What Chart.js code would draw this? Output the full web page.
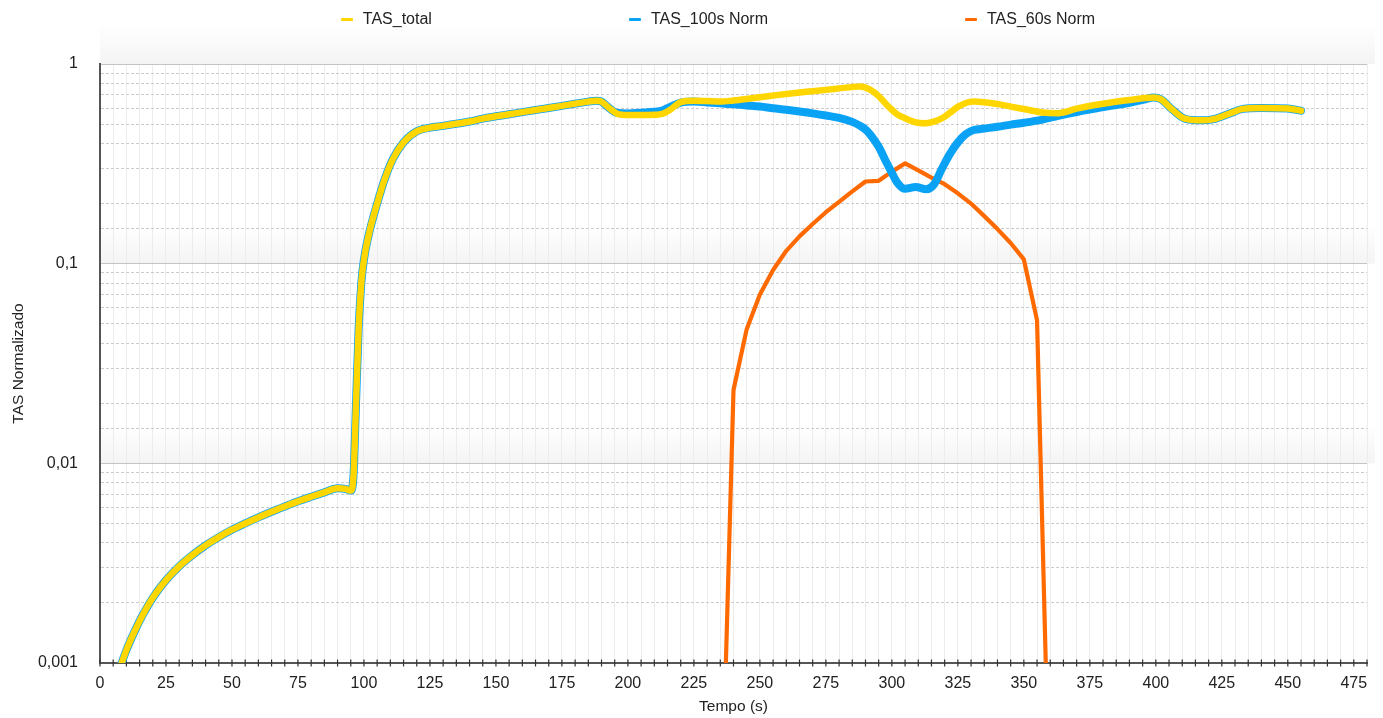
<!DOCTYPE html>
<html lang="pt">
<head>
<meta charset="UTF-8">
<title>TAS Normalizado</title>
<script src="https://cdn.jsdelivr.net/npm/chart.js@4.4.1/dist/chart.umd.min.js"></script>
<style>
  body { margin: 0; background: #fff; }
  #wrap { position: relative; width: 1383px; height: 718px; }
  #legend {
    position: absolute; top: 10px; left: 53px; right: 0;
    display: flex; justify-content: center; gap: 197px;
    font: 16px "Liberation Sans", Arial, sans-serif; color: #222;
  }
  .legend-item { display: flex; align-items: center; }
  .legend-box { width: 12px; height: 3px; margin-right: 10px; border-radius: 1px; }
</style>
</head>
<body>
<div id="wrap">
  <div id="legend"></div>
  <canvas id="tasChart" width="1383" height="718"></canvas>
</div>
<script>
// Dados (tempo em s)
const tiempo = [7, 10, 13, 16, 20, 25, 30, 35, 40, 45, 50, 55, 60, 65, 70, 75, 80, 85, 90, 93, 95,
  96, 97, 98, 99, 100, 102, 105, 108, 111, 115, 120, 125, 130, 135, 140, 145, 150, 155, 160, 165,
  170, 175, 180, 185, 188, 190, 193, 196, 200, 205, 210, 213, 216, 220, 225, 230, 235, 240, 245, 250,
  255, 260, 265, 270, 275, 280, 285, 288, 290, 292, 295, 298, 300, 302, 305, 309, 313, 316, 319, 322,
  325, 328, 331, 335, 340, 345, 350, 357, 363, 370, 380, 390, 396, 399, 402, 406, 411, 417, 422, 428,
  433, 440, 450, 455];

const tasTotal = [0.0009, 0.00116, 0.00143, 0.00172, 0.00212, 0.0026, 0.00305, 0.00347, 0.00388, 0.00427, 0.00465,
  0.005, 0.00536, 0.00572, 0.00608, 0.00645, 0.0068, 0.00715, 0.0075, 0.00745, 0.0073,
  0.0085, 0.02, 0.048, 0.08, 0.105, 0.143, 0.2, 0.268, 0.335, 0.405, 0.46, 0.48, 0.49, 0.502, 0.515,
  0.533, 0.547, 0.56, 0.574, 0.588, 0.602, 0.617, 0.633, 0.648, 0.655, 0.648, 0.6, 0.563, 0.555, 0.555,
  0.557, 0.562, 0.59, 0.645, 0.655, 0.652, 0.648, 0.656, 0.668, 0.682, 0.695, 0.708, 0.72, 0.731, 0.742,
  0.755, 0.768, 0.772, 0.762, 0.74, 0.69, 0.625, 0.59, 0.56, 0.535, 0.51, 0.505, 0.515, 0.535, 0.57,
  0.61, 0.638, 0.648, 0.643, 0.63, 0.612, 0.595, 0.572, 0.567, 0.598, 0.632, 0.66, 0.675, 0.68, 0.665,
  0.595, 0.532, 0.522, 0.53, 0.565, 0.596, 0.602, 0.598, 0.584];

const tas100 = [0.0009, 0.00116, 0.00143, 0.00172, 0.00212, 0.0026, 0.00305, 0.00347, 0.00388, 0.00427, 0.00465,
  0.005, 0.00536, 0.00572, 0.00608, 0.00645, 0.0068, 0.00715, 0.0075, 0.00745, 0.0073,
  0.0085, 0.02, 0.048, 0.08, 0.105, 0.143, 0.2, 0.268, 0.335, 0.405, 0.46, 0.48, 0.49, 0.502, 0.515,
  0.533, 0.547, 0.56, 0.574, 0.588, 0.602, 0.617, 0.633, 0.648, 0.655, 0.648, 0.6, 0.568, 0.565, 0.57,
  0.576, 0.585, 0.61, 0.64, 0.648, 0.642, 0.635, 0.628, 0.62, 0.612, 0.6, 0.59, 0.578, 0.566, 0.552,
  0.537, 0.513, 0.49, 0.47, 0.44, 0.385, 0.32, 0.285, 0.255, 0.237, 0.242, 0.236, 0.25, 0.3, 0.355,
  0.405, 0.445, 0.467, 0.475, 0.485, 0.497, 0.508, 0.527, 0.55, 0.575, 0.608, 0.64, 0.665, 0.68, 0.665,
  0.595, 0.532, 0.522, 0.53, 0.565, 0.596, 0.602, 0.598, 0.584];

const tiempo60 = [235, 240, 245, 250, 255, 260, 265, 270, 275, 280, 285, 290, 295, 300, 305,
  310, 315, 320, 325, 330, 335, 340, 345, 350, 355, 360];
const tas60 = [0.0001, 0.0233, 0.047, 0.07, 0.093, 0.116, 0.137, 0.158, 0.181, 0.204, 0.23, 0.258, 0.26,
  0.289, 0.318, 0.293, 0.27, 0.25, 0.225, 0.2, 0.173, 0.149, 0.127, 0.105, 0.052, 0.00013];

const seriesLabels = ["TAS_total", "TAS_100s Norm", "TAS_60s Norm"];
const seriesColors = ["#FFD600", "#0AA2F5", "#FF6A00"];

const fontFamily = '"Liberation Sans", Arial, sans-serif';

function toPoints(xs, ys) {
  return xs.map((x, i) => ({ x: x, y: ys[i] }));
}

function isDecade(value) {
  const l = Math.log10(value);
  return Math.abs(l - Math.round(l)) < 1e-6;
}

// faixa cinza suave acima de cada década
const decadeShade = {
  id: "decadeShade",
  beforeDraw(chart) {
    const { ctx, chartArea } = chart;
    const yScale = chart.scales.y;
    ctx.save();
    [1, 0.1, 0.01].forEach((v) => {
      const y = yScale.getPixelForValue(v);
      const grad = ctx.createLinearGradient(0, y - 40, 0, y);
      grad.addColorStop(0, "rgba(0,0,0,0)");
      grad.addColorStop(1, "rgba(0,0,0,0.045)");
      ctx.fillStyle = grad;
      ctx.fillRect(chartArea.left, y - 40, chartArea.right - chartArea.left + 8, 40);
    });
    ctx.restore();
  },
};

// marcas pequenas cruzando o eixo x
const axisTicks = {
  id: "axisTicks",
  beforeDatasetsDraw(chart) {
    const { ctx, chartArea } = chart;
    const xScale = chart.scales.x;
    ctx.save();
    ctx.strokeStyle = "#333";
    ctx.lineWidth = 1.2;
    xScale.ticks.forEach((tick) => {
      const px = xScale.getPixelForValue(tick.value);
      ctx.beginPath();
      ctx.moveTo(px, chartArea.bottom - 3.5);
      ctx.lineTo(px, chartArea.bottom + 3.5);
      ctx.stroke();
    });
    ctx.restore();
  },
};

const ctx = document.getElementById("tasChart").getContext("2d");
const tasChart = new Chart(ctx, {
  type: "line",
  data: {
    datasets: [
      {
        label: seriesLabels[0],
        data: toPoints(tiempo, tasTotal),
        borderColor: seriesColors[0],
        backgroundColor: seriesColors[0],
        borderWidth: 6.5,
        cubicInterpolationMode: "monotone",
      },
      {
        label: seriesLabels[1],
        data: toPoints(tiempo, tas100),
        borderColor: seriesColors[1],
        backgroundColor: seriesColors[1],
        borderWidth: 8,
        cubicInterpolationMode: "monotone",
      },
      {
        label: seriesLabels[2],
        data: toPoints(tiempo60, tas60),
        borderColor: seriesColors[2],
        backgroundColor: seriesColors[2],
        borderWidth: 4.2,
        tension: 0,
      },
    ],
  },
  options: {
    responsive: false,
    animation: false,
    elements: {
      point: { radius: 0 },
      line: { borderCapStyle: "round", borderJoinStyle: "round" },
    },
    layout: { padding: { top: 64, right: 16, bottom: 0, left: 5 } },
    plugins: {
      legend: { display: false },
      tooltip: { enabled: false },
    },
    scales: {
      x: {
        type: "linear",
        min: 0,
        max: 480,
        afterFit: (scale) => {
          scale.height = 55; // eixo em y = 663
        },
        grid: { color: "#ececec", lineWidth: 1, drawTicks: false },
        border: { display: true, color: "#555", width: 2 },
        ticks: {
          stepSize: 5,
          autoSkip: false,
          maxRotation: 0,
          padding: 11.4,
          color: "#222",
          font: { family: fontFamily, size: 16 },
          callback: (value) => (value % 25 === 0 && value < 480 ? value : ""),
        },
        title: {
          display: true,
          text: "Tempo (s)",
          color: "#222",
          font: { family: fontFamily, size: 15.5 },
          padding: { top: 3, bottom: 2 },
        },
      },
      y: {
        type: "logarithmic",
        min: 0.001,
        max: 1,
        afterFit: (scale) => {
          scale.width = 95; // eixo começa em x = 100
        },
        grid: {
          drawTicks: false,
          lineWidth: 1,
          color: (c) => (c.tick && isDecade(c.tick.value) ? "#c4c4c4" : "#cbcbcb"),
        },
        border: {
          display: true,
          color: "#555",
          width: 2,
          dash: (c) => (c.tick && !isDecade(c.tick.value) ? [3, 2] : []),
        },
        ticks: {
          autoSkip: false,
          padding: 22,
          color: "#222",
          font: { family: fontFamily, size: 16 },
          callback: (value) => (isDecade(value) ? String(value).replace(".", ",") : ""),
        },
        title: {
          display: true,
          text: "TAS Normalizado",
          color: "#222",
          font: { family: fontFamily, size: 15.5 },
          padding: { top: 4, bottom: 10.4 },
        },
      },
    },
  },
  plugins: [decadeShade, axisTicks],
});

function renderLegend(chart) {
  const legend = document.getElementById("legend");
  legend.innerHTML = "";
  chart.data.datasets.forEach((ds) => {
    const item = document.createElement("div");
    item.classList.add("legend-item");
    const box = document.createElement("span");
    box.classList.add("legend-box");
    box.style.background = ds.borderColor;
    const text = document.createElement("span");
    text.textContent = ds.label;
    item.appendChild(box);
    item.appendChild(text);
    legend.appendChild(item);
  });
}

renderLegend(tasChart);
</script>
</body>
</html>
